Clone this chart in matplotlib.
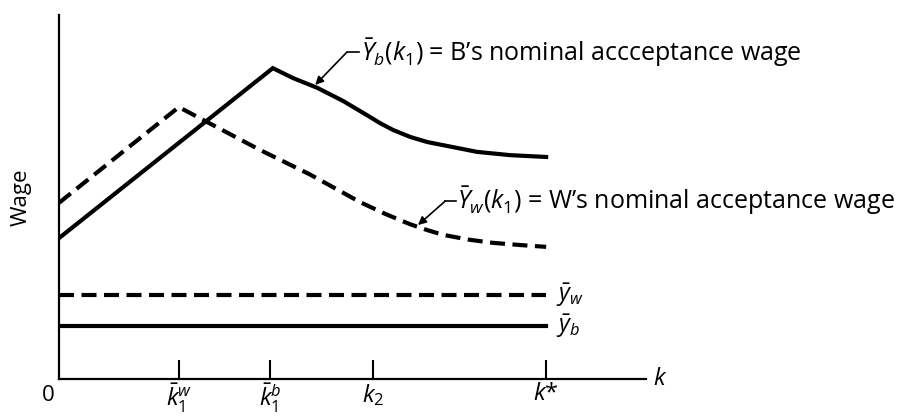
import numpy as np
import matplotlib
matplotlib.use('Agg')
import matplotlib.pyplot as plt

plt.rcParams['font.family'] = ['Open Sans', 'DejaVu Sans']
plt.rcParams['mathtext.fontset'] = 'custom'
plt.rcParams['mathtext.rm'] = 'Open Sans'
plt.rcParams['mathtext.it'] = 'Open Sans:italic'

# data (k* = 10)
k_b = [0, 4.39, 4.80, 5.30, 5.83, 6.32, 6.59, 6.86, 7.21, 7.56, 8.09, 8.58, 9.26, 10]
Yb = [3.87, 8.54, 8.27, 8.00, 7.64, 7.25, 7.03, 6.84, 6.65, 6.51, 6.37, 6.24, 6.15, 6.10]
k_w = [0, 2.46, 4.13, 5.15, 6.18, 6.69, 7.21, 7.56, 7.89, 8.40, 8.91, 9.47, 10]
Yw = [4.84, 7.47, 6.29, 5.62, 4.86, 4.54, 4.25, 4.09, 3.96, 3.83, 3.74, 3.68, 3.63]
yw_bar = 2.31
yb_bar = 1.46
k_ticks = [2.46, 4.33, 6.45, 10]
k_labels = [r'$\bar{k}_1^w$', r'$\bar{k}_1^b$', r'$k_2$', r'$k$*']

fig = plt.figure(figsize=(9.07, 4.17), dpi=100)
ax = fig.add_axes([59/907, 38/417, 587/907, 364/417])
ax.set_xlim(0, 12.05)
ax.set_ylim(0, 10)

ax.plot(k_b, Yb, color='k', lw=3, solid_joinstyle='miter')
ax.plot(k_w, Yw, color='k', lw=3, dashes=(3.6, 1.8))
ax.plot([0, 10], [yw_bar, yw_bar], color='k', lw=3, dashes=(3.6, 1.8))
ax.plot([0, 10], [yb_bar, yb_bar], color='k', lw=3)

for s in ['top', 'right']:
    ax.spines[s].set_visible(False)
ax.spines['left'].set_linewidth(1.6)
ax.spines['bottom'].set_linewidth(1.6)
ax.set_yticks([])
ax.set_xticks(k_ticks)
ax.set_xticklabels(k_labels, fontsize=17)
ax.tick_params(axis='x', direction='in', length=14, width=1.5, pad=2)

ax.text(-0.22, -0.45, '0', fontsize=16, ha='center', va='center', clip_on=False)
ax.text(12.2, 0, '$k$', fontsize=17, ha='left', va='center', clip_on=False)
ax.set_ylabel('Wage', fontsize=16, labelpad=20)

ax.text(10.2, yw_bar, r'$\bar{y}_w$', fontsize=17, ha='left', va='center')
ax.text(10.2, yb_bar, r'$\bar{y}_b$', fontsize=17, ha='left', va='center')

# leader lines
ax.plot([5.91, 6.15], [8.98, 8.98], color='k', lw=1.2)
ax.annotate('', xy=(5.26, 8.08), xytext=(5.91, 8.98),
            arrowprops=dict(arrowstyle='-|>', lw=1.2, color='k', shrinkA=0, shrinkB=0, mutation_scale=12))
ax.text(6.2, 8.98, r'$\bar{Y}_b(k_1)$ = B’s nominal accceptance wage', fontsize=18,
        ha='left', va='center', clip_on=False)

ax.plot([7.93, 8.14], [4.89, 4.89], color='k', lw=1.2)
ax.annotate('', xy=(7.37, 4.23), xytext=(7.93, 4.89),
            arrowprops=dict(arrowstyle='-|>', lw=1.2, color='k', shrinkA=0, shrinkB=0, mutation_scale=12))
ax.text(8.17, 4.89, r'$\bar{Y}_w(k_1)$ = W’s nominal acceptance wage', fontsize=18,
        ha='left', va='center', clip_on=False)

fig.savefig('out.png', dpi=100)
